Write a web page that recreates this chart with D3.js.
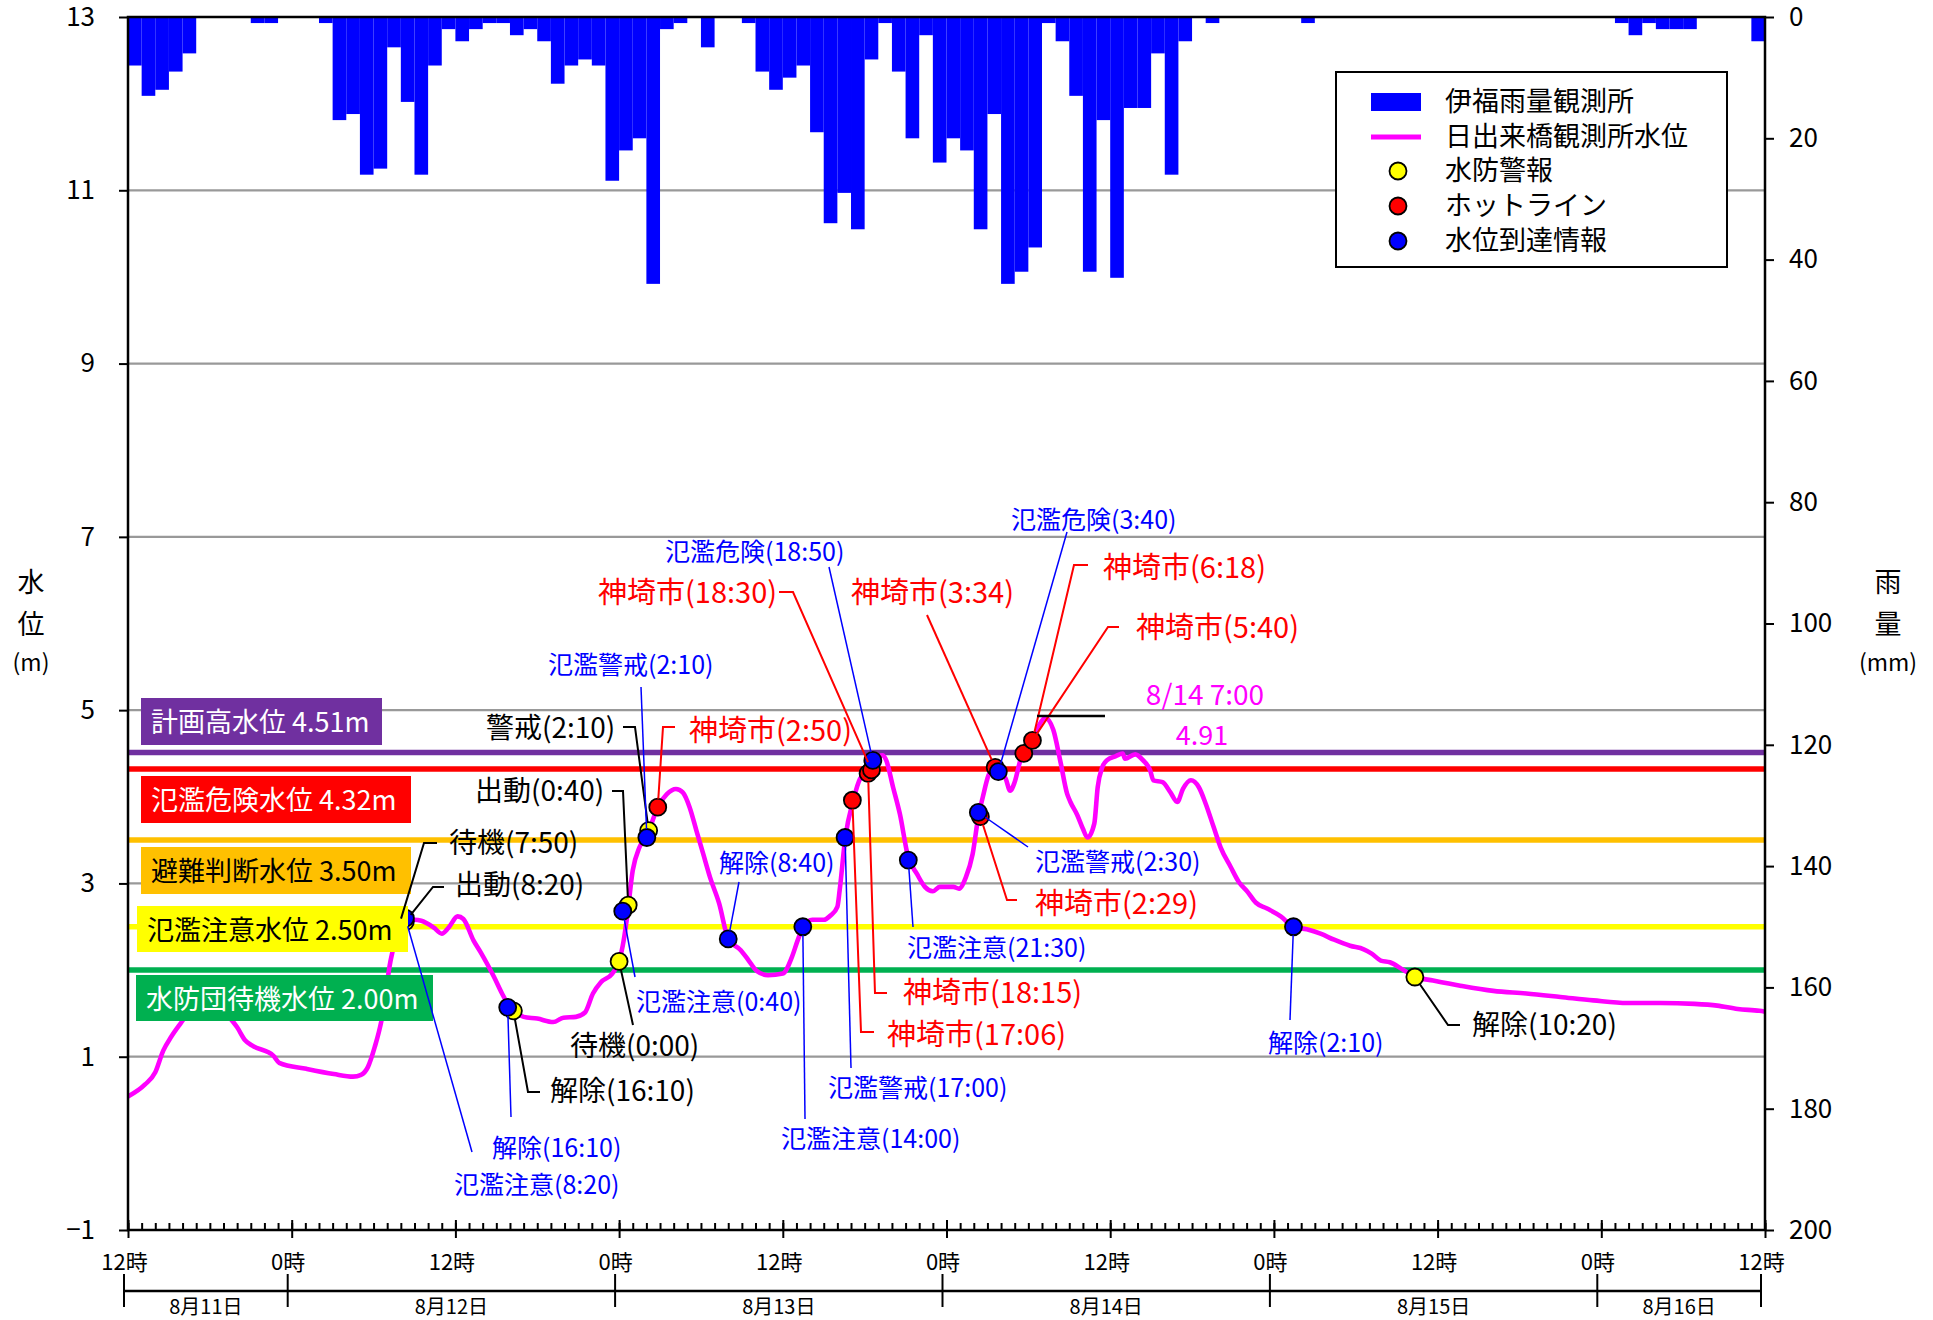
<!DOCTYPE html>
<html>
<head>
<meta charset="utf-8">
<script src="https://cdn.jsdelivr.net/npm/d3@7"></script>
<style>
  body { margin: 0; background: #fff; }
</style>
</head>
<body>
<div id="chart"></div>
<script>
// time helper (year is only there to keep the calendar sane)
const T = s => d3.timeParse("%Y-%m-%d %H:%M")("2021-" + s);

// hourly rainfall at 伊福 (mm), first bar = 8/11 12:00-13:00
const rainStart = "08-11 12:00";
const rainfall = [
  8, 13, 12, 9, 6, 0, 0, 0, 0, 1, 1, 0,          // 8/11 12-23
  0, 0, 1, 17, 16, 26, 25, 5, 14, 26, 8, 2,      // 8/12 0-11
  4, 2, 1, 1, 3, 2, 4, 11, 8, 7, 8, 27,          // 8/12 12-23
  22, 20, 44, 2, 1, 0, 5, 0, 0, 1, 9, 12,        // 8/13 0-11
  10, 8, 19, 34, 29, 35, 7, 1, 9, 20, 3, 24,     // 8/13 12-23
  20, 22, 35, 16, 44, 42, 38, 1, 4, 13, 42, 17,  // 8/14 0-11
  43, 15, 15, 6, 26, 4, 0, 1, 0, 0, 0, 0,        // 8/14 12-23
  0, 0, 1, 0, 0, 0, 0, 0, 0, 0, 0, 0,            // 8/15 0-11
  0, 0, 0, 0, 0, 0, 0, 0, 0, 0, 0, 0,            // 8/15 12-23
  0, 1, 3, 1, 2, 2, 2, 0, 0, 0, 0, 4             // 8/16 0-11
];

// water level at 日出来橋 (m)
const waterLevel = [
  ["08-11 12:00",0.54],["08-11 13:15",0.68],["08-11 14:00",0.82],["08-11 14:35",1.07],["08-11 15:10",1.23],
  ["08-11 15:50",1.38],["08-11 16:40",1.55],["08-11 17:30",1.62],["08-11 18:30",1.57],["08-11 19:40",1.41],
  ["08-11 20:00",1.34],["08-11 20:35",1.19],["08-11 21:05",1.13],["08-11 22:40",1.01],["08-11 23:05",0.93],
  ["08-12 01:05",0.86],["08-12 03:05",0.80],["08-12 04:30",0.77],["08-12 05:05",0.79],["08-12 05:35",0.88],
  ["08-12 06:05",1.11],["08-12 06:35",1.42],["08-12 07:15",2.11],["08-12 07:50",2.45],["08-12 08:20",2.58],
  ["08-12 09:00",2.58],["08-12 09:30",2.57],["08-12 10:25",2.49],["08-12 11:00",2.42],["08-12 11:30",2.49],
  ["08-12 12:10",2.62],["08-12 12:35",2.59],["08-12 13:20",2.34],["08-12 13:50",2.21],["08-12 14:20",2.07],
  ["08-12 14:50",1.92],["08-12 15:25",1.73],["08-12 15:55",1.59],["08-12 16:30",1.51],["08-12 17:00",1.46],
  ["08-12 18:00",1.44],["08-12 19:10",1.40],["08-12 19:55",1.45],["08-12 20:50",1.46],["08-12 21:30",1.51],
  ["08-12 22:05",1.73],["08-12 22:40",1.86],["08-12 23:30",1.96],["08-13 00:00",2.10],["08-13 00:20",2.34],
  ["08-13 00:35",2.61],["08-13 01:00",3.15],["08-13 01:30",3.42],["08-13 02:05",3.57],["08-13 02:50",3.88],
  ["08-13 03:30",4.03],["08-13 04:10",4.09],["08-13 04:40",4.05],["08-13 05:10",3.88],["08-13 05:40",3.61],
  ["08-13 06:10",3.34],["08-13 06:40",3.07],["08-13 07:20",2.77],["08-13 08:00",2.36],["08-13 08:55",2.23],
  ["08-13 09:30",2.11],["08-13 10:05",1.99],["08-13 10:55",1.94],["08-13 12:00",1.96],["08-13 12:40",2.15],
  ["08-13 13:05",2.34],["08-13 13:30",2.50],["08-13 14:10",2.58],["08-13 15:00",2.58],["08-13 15:30",2.63],
  ["08-13 16:00",2.73],["08-13 16:10",2.92],["08-13 16:35",3.53],["08-13 17:10",3.96],["08-13 17:40",4.21],
  ["08-13 18:10",4.28],["08-13 18:40",4.42],["08-13 19:20",4.48],["08-13 19:35",4.42],["08-13 20:05",4.11],
  ["08-13 20:35",3.80],["08-13 21:10",3.32],["08-13 21:50",3.11],["08-13 22:25",2.96],["08-13 23:00",2.91],
  ["08-13 23:30",2.96],["08-14 00:30",2.96],["08-14 00:55",2.94],["08-14 01:25",3.07],["08-14 01:55",3.34],
  ["08-14 02:20",3.77],["08-14 02:40",4.00],["08-14 03:05",4.25],["08-14 03:30",4.33],["08-14 04:00",4.28],
  ["08-14 04:20",4.21],["08-14 04:40",4.07],["08-14 05:00",4.17],["08-14 05:25",4.42],["08-14 05:50",4.52],
  ["08-14 06:25",4.67],["08-14 06:50",4.84],["08-14 07:15",4.91],["08-14 07:50",4.77],["08-14 08:20",4.42],
  ["08-14 08:50",4.04],["08-14 09:05",3.94],["08-14 09:35",3.79],["08-14 10:00",3.63],["08-14 10:20",3.53],
  ["08-14 10:50",3.69],["08-14 11:05",4.11],["08-14 11:25",4.34],["08-14 11:45",4.42],["08-14 12:25",4.47],
  ["08-14 12:55",4.50],["08-14 13:05",4.44],["08-14 13:50",4.49],["08-14 14:25",4.42],["08-14 14:55",4.31],
  ["08-14 15:10",4.19],["08-14 15:50",4.17],["08-14 16:25",4.05],["08-14 16:55",3.94],["08-14 17:20",4.09],
  ["08-14 17:55",4.19],["08-14 18:30",4.11],["08-14 19:00",3.92],["08-14 19:35",3.65],["08-14 20:05",3.42],
  ["08-14 20:50",3.19],["08-14 21:25",3.02],["08-14 22:05",2.90],["08-14 22:40",2.78],["08-14 23:30",2.71],
  ["08-15 00:30",2.62],["08-15 01:25",2.50],["08-15 02:25",2.47],["08-15 03:25",2.42],["08-15 04:25",2.35],
  ["08-15 05:35",2.28],["08-15 06:35",2.24],["08-15 07:10",2.19],["08-15 07:50",2.11],["08-15 08:30",2.09],
  ["08-15 09:30",2.00],["08-15 10:25",1.92],["08-15 11:40",1.88],["08-15 13:40",1.82],["08-15 16:05",1.76],
  ["08-15 18:30",1.73],["08-15 21:00",1.69],["08-15 23:25",1.65],["08-16 01:55",1.62],["08-16 04:20",1.62],
  ["08-16 06:50",1.61],["08-16 08:30",1.59],["08-16 10:00",1.55],["08-16 11:35",1.53],["08-16 12:00",1.52]
];

// reference water levels
const levelNames = ["計画高水位", "氾濫危険水位", "避難判断水位", "氾濫注意水位", "水防団待機水位"];
const levelValues = [4.51, 4.32, 3.50, 2.50, 2.00];

// events: [label, time on chart, level]
const warnEvents = [   // 水防警報
  ["待機(7:50)", "08-12 07:50", 2.50], ["出動(8:20)", "08-12 08:20", 2.56],
  ["解除(16:10)", "08-12 16:15", 1.53], ["待機(0:00)", "08-13 00:00", 2.10],
  ["出動(0:40)", "08-13 00:40", 2.75], ["警戒(2:10)", "08-13 02:10", 3.61],
  ["解除(10:20)", "08-15 10:20", 1.92]
];
const hotlineEvents = [   // ホットライン
  ["神埼市(2:50)", "08-13 02:50", 3.88], ["神埼市(17:06)", "08-13 17:06", 3.96],
  ["神埼市(18:15)", "08-13 18:15", 4.27], ["神埼市(18:30)", "08-13 18:30", 4.31],
  ["神埼市(2:29)", "08-14 02:29", 3.77], ["神埼市(3:34)", "08-14 03:34", 4.34],
  ["神埼市(5:40)", "08-14 05:40", 4.50], ["神埼市(6:18)", "08-14 06:18", 4.65]
];
const reachEvents = [   // 水位到達情報
  ["氾濫注意(8:20)", "08-12 08:20", 2.60], ["解除(16:10)", "08-12 15:50", 1.57],
  ["氾濫注意(0:40)", "08-13 00:16", 2.68], ["氾濫警戒(2:10)", "08-13 02:02", 3.53],
  ["解除(8:40)", "08-13 08:00", 2.36], ["氾濫注意(14:00)", "08-13 13:28", 2.50],
  ["氾濫警戒(17:00)", "08-13 16:34", 3.53], ["氾濫危険(18:50)", "08-13 18:36", 4.42],
  ["氾濫注意(21:30)", "08-13 21:12", 3.27], ["氾濫警戒(2:30)", "08-14 02:20", 3.82],
  ["氾濫危険(3:40)", "08-14 03:48", 4.29], ["解除(2:10)", "08-15 01:26", 2.50]
];
const peak = ["08-14 07:00", 4.91];

const levelTicks = [-1, 1, 3, 5, 7, 9, 11, 13];
const rainTicks = [0, 20, 40, 60, 80, 100, 120, 140, 160, 180, 200];
const dayBounds = ["08-11 12:00", "08-12 00:00", "08-13 00:00", "08-14 00:00", "08-15 00:00", "08-16 00:00", "08-16 12:00"];
const dayLabels = ["8月11日", "8月12日", "8月13日", "8月14日", "8月15日", "8月16日"];

// ---- layout / styles ----
const W = 1933, H = 1320;
const plot = { left: 128, right: 1765, top: 17, bottom: 1230 };
const levelColors = ["#7030A0", "#FF0000", "#FFC000", "#FFFF00", "#00B050"];
const levelTextColors = ["#fff", "#fff", "#000", "#000", "#fff"];
const levelBoxes = [[141, 698, 241, 47], [141, 776, 270, 47], [141, 847, 270, 47], [137, 906, 271, 46], [136, 975, 297, 46]];
// [text x, text y, leader points from text toward marker]
const warnLayout = [
  [449, 845, [[437, 843], [424, 843]]], [455, 887, [[444, 887], [433, 887]]],
  [550, 1093, [[540, 1092], [528, 1092]]], [570, 1048, [[633, 1025]]],
  [475, 793, [[612, 791], [623, 791]]], [486, 730, [[623, 727], [635, 727]]],
  [1472, 1027, [[1460, 1025], [1448, 1025]]]
];
const hotlineLayout = [
  [689, 732, [[675, 727], [663, 727]]], [887, 1036, [[874, 1032], [861, 1032]]],
  [903, 994, [[887, 993], [875, 993]]], [598, 594, [[779, 592], [793, 592]]],
  [1035, 905, [[1017, 900], [1007, 900]]], [851, 594, [[927, 615]]],
  [1136, 629, [[1119, 627], [1108, 627]]], [1103, 569, [[1088, 565], [1074, 565]]]
];
const reachLayout = [
  [454, 1187, [[472, 1152]]], [492, 1150, [[511, 1117]]], [636, 1004, [[635, 977]]],
  [548, 667, [[641, 687]]], [719, 865, [[739, 882]]], [781, 1141, [[805, 1119]]],
  [828, 1090, [[851, 1068]]], [665, 554, [[829, 567]]], [907, 950, [[913, 927]]],
  [1035, 864, [[1028, 847]]], [1011, 522, [[1067, 532]]], [1268, 1045, [[1290, 1020]]]
];
const FONT = '"Noto Sans CJK JP", "Noto Sans", sans-serif';
const R = 8.5;
const TEXT_SHIFT = -4;   // CJK glyphs sit a little low with central baseline

const svg = d3.select("#chart").append("svg")
  .attr("width", W).attr("height", H)
  .style("font-family", FONT);

const x = d3.scaleTime().domain([T("08-11 12:00"), T("08-16 12:00")]).range([plot.left, plot.right]);
const y = d3.scaleLinear().domain([-1, 13]).range([plot.bottom, plot.top]);
const yRain = d3.scaleLinear().domain([0, 200]).range([plot.top, plot.bottom]);

// gridlines
svg.append("g").selectAll("line")
  .data(levelTicks.filter(d => d > -1 && d < 13))
  .join("line")
  .attr("x1", plot.left).attr("x2", plot.right)
  .attr("y1", d => y(d)).attr("y2", d => y(d))
  .attr("stroke", "#999").attr("stroke-width", 2.2);

// rain bars hanging from the top
const t0 = T(rainStart);
svg.append("g").selectAll("rect")
  .data(rainfall.map((mm, i) => ({ t: d3.timeHour.offset(t0, i), mm })).filter(d => d.mm > 0))
  .join("rect")
  .attr("x", d => x(d.t))
  .attr("width", d => x(d3.timeHour.offset(d.t, 1)) - x(d.t))
  .attr("y", yRain(0))
  .attr("height", d => yRain(d.mm) - yRain(0))
  .attr("fill", "#0000FF");

// reference level lines
svg.append("g").selectAll("line")
  .data(levelValues)
  .join("line")
  .attr("x1", plot.left).attr("x2", plot.right)
  .attr("y1", d => y(d)).attr("y2", d => y(d))
  .attr("stroke", (d, i) => levelColors[i]).attr("stroke-width", 5.5);

// water level line
const line = d3.line()
  .x(d => x(T(d[0])))
  .y(d => y(d[1]))
  .curve(d3.curveMonotoneX);
svg.append("path")
  .datum(waterLevel)
  .attr("d", line)
  .attr("fill", "none")
  .attr("stroke", "#FF00FF")
  .attr("stroke-width", 4.6)
  .attr("stroke-linejoin", "round");

// event groups
const groups = [
  { events: warnEvents, layout: warnLayout, fill: "#FFFF00", color: "#000", size: 28, lw: 2 },
  { events: hotlineEvents, layout: hotlineLayout, fill: "#FF0000", color: "#FF0000", size: 29, lw: 2 },
  { events: reachEvents, layout: reachLayout, fill: "#0000FF", color: "#0000FF", size: 25, lw: 1.5 }
];

// markers
groups.forEach(g => {
  svg.append("g").selectAll("circle")
    .data(g.events)
    .join("circle")
    .attr("cx", d => x(T(d[1])))
    .attr("cy", d => y(d[2]))
    .attr("r", R)
    .attr("fill", g.fill)
    .attr("stroke", "#000")
    .attr("stroke-width", 1.8);
});

// level label boxes
const boxes = svg.append("g");
levelNames.forEach((name, i) => {
  const [bx, by, bw, bh] = levelBoxes[i];
  boxes.append("rect")
    .attr("x", bx).attr("y", by).attr("width", bw).attr("height", bh)
    .attr("fill", levelColors[i]);
  boxes.append("text")
    .attr("x", bx + 10).attr("y", by + bh / 2 - 1)
    .attr("dominant-baseline", "central")
    .attr("font-size", 27)
    .attr("fill", levelTextColors[i])
    .text(`${name} ${levelValues[i].toFixed(2)}m`);
});

// leader lines and labels
const poly = d3.line();
groups.forEach(g => {
  const gg = svg.append("g");
  g.events.forEach((ev, i) => {
    const [tx, ty, pts] = g.layout[i];
    const mx = x(T(ev[1])), my = y(ev[2]);
    const last = pts[pts.length - 1];
    const dx = mx - last[0], dy = my - last[1];
    const len = Math.hypot(dx, dy);
    const end = [mx - dx / len * R, my - dy / len * R];
    gg.append("path")
      .attr("d", poly([...pts, end]))
      .attr("fill", "none")
      .attr("stroke", g.color)
      .attr("stroke-width", g.lw);
    gg.append("text")
      .attr("x", tx).attr("y", ty + TEXT_SHIFT)
      .attr("dominant-baseline", "central")
      .attr("font-size", g.size)
      .attr("fill", g.color)
      .text(ev[0]);
  });
});

// peak note
svg.append("line")
  .attr("x1", x(T(peak[0])) - 5).attr("x2", x(T(peak[0])) + 63)
  .attr("y1", y(peak[1]) - 2).attr("y2", y(peak[1]) - 2)
  .attr("stroke", "#000").attr("stroke-width", 2.5);
svg.append("text")
  .attr("x", 1205).attr("y", 697 + TEXT_SHIFT)
  .attr("text-anchor", "middle").attr("dominant-baseline", "central")
  .attr("font-size", 28).attr("fill", "#FF00FF")
  .text("8/14 7:00");
svg.append("text")
  .attr("x", 1202).attr("y", 737 + TEXT_SHIFT)
  .attr("text-anchor", "middle").attr("dominant-baseline", "central")
  .attr("font-size", 27).attr("fill", "#FF00FF")
  .text(peak[1].toFixed(2));

// legend
const lg = svg.append("g");
lg.append("rect")
  .attr("x", 1336).attr("y", 72).attr("width", 391).attr("height", 195)
  .attr("fill", "#fff").attr("stroke", "#000").attr("stroke-width", 2);
const legendItems = ["伊福雨量観測所", "日出来橋観測所水位", "水防警報", "ホットライン", "水位到達情報"];
const legendY = [102, 137, 171, 206, 241];
lg.append("rect").attr("x", 1371).attr("y", 93).attr("width", 50).attr("height", 18).attr("fill", "#0000FF");
lg.append("line").attr("x1", 1371).attr("x2", 1421).attr("y1", 137).attr("y2", 137)
  .attr("stroke", "#FF00FF").attr("stroke-width", 5);
groups.forEach((g, i) => {
  lg.append("circle").attr("cx", 1398).attr("cy", legendY[i + 2]).attr("r", R)
    .attr("fill", g.fill).attr("stroke", "#000").attr("stroke-width", 1.8);
});
lg.selectAll("text")
  .data(legendItems)
  .join("text")
  .attr("x", 1445).attr("y", (d, i) => legendY[i] - 3)
  .attr("dominant-baseline", "central")
  .attr("font-size", 27)
  .text(d => d);

// frame
svg.append("rect")
  .attr("x", plot.left).attr("y", plot.top)
  .attr("width", plot.right - plot.left).attr("height", plot.bottom - plot.top)
  .attr("fill", "none").attr("stroke", "#000").attr("stroke-width", 2.5);

// axes
function styleAxis(g, size) {
  g.select(".domain").remove();
  g.attr("font-family", FONT).attr("font-size", size);
  g.selectAll(".tick line").attr("stroke", "#000").attr("stroke-width", 2);
  g.selectAll(".tick text").attr("fill", "#000");
}
svg.append("g")
  .attr("transform", `translate(${plot.left},0)`)
  .call(d3.axisLeft(y).tickValues(levelTicks).tickSize(9).tickPadding(24).tickFormat(d => d < 0 ? "−" + (-d) : d))
  .call(g => styleAxis(g, 26));
svg.append("g")
  .attr("transform", `translate(${plot.right},0)`)
  .call(d3.axisRight(yRain).tickValues(rainTicks).tickSize(9).tickPadding(15))
  .call(g => styleAxis(g, 26));

// hourly minor ticks (inside)
svg.append("g")
  .attr("transform", `translate(0,${plot.bottom})`)
  .call(d3.axisBottom(x).ticks(d3.timeHour.every(1)).tickSize(-7).tickFormat(""))
  .call(g => styleAxis(g, 22));
// 12-hour major ticks
svg.append("g")
  .attr("transform", `translate(0,${plot.bottom})`)
  .call(d3.axisBottom(x).ticks(d3.timeHour.every(12)).tickSize(8).tickFormat(d => d.getHours() + "時"))
  .call(g => styleAxis(g, 22))
  .call(g => g.selectAll(".tick line").attr("y1", -10))
  .call(g => g.selectAll(".tick text").attr("y", 32).attr("dy", "0.35em").attr("dx", -4));

// day row
const dayRow = svg.append("g").attr("transform", "translate(-4,0)");
dayRow.append("line")
  .attr("x1", x(T(dayBounds[0]))).attr("x2", x(T(dayBounds[dayBounds.length - 1])))
  .attr("y1", 1291).attr("y2", 1291)
  .attr("stroke", "#000").attr("stroke-width", 2.5);
dayRow.selectAll(".sep")
  .data(dayBounds)
  .join("line")
  .attr("x1", d => x(T(d))).attr("x2", d => x(T(d)))
  .attr("y1", 1274).attr("y2", 1307)
  .attr("stroke", "#000").attr("stroke-width", 2);
dayRow.selectAll("text")
  .data(dayLabels)
  .join("text")
  .attr("x", (d, i) => (x(T(dayBounds[i])) + x(T(dayBounds[i + 1]))) / 2)
  .attr("y", 1305)
  .attr("text-anchor", "middle").attr("dominant-baseline", "central")
  .attr("font-size", 20)
  .text(d => d);

// axis titles
const titles = [
  [31, ["水", "位", "(m)"]],
  [1888, ["雨", "量", "(mm)"]]
];
titles.forEach(([tx, parts]) => {
  svg.append("g").selectAll("text")
    .data(parts)
    .join("text")
    .attr("x", tx).attr("y", (d, i) => [584, 626, 665][i] + TEXT_SHIFT)
    .attr("text-anchor", "middle").attr("dominant-baseline", "central")
    .attr("font-size", (d, i) => i < 2 ? 27 : 23)
    .text(d => d);
});
</script>
</body>
</html>
